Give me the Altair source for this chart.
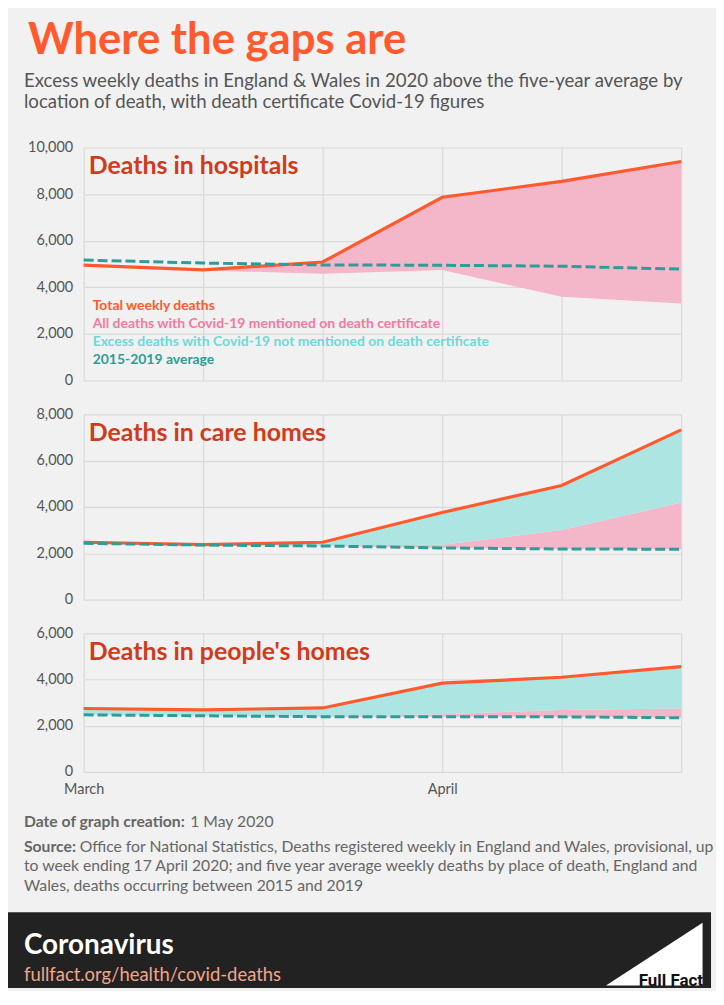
import altair as alt
import pandas as pd

FONT = "Lato"

weeks = ["13 Mar", "20 Mar", "27 Mar", "3 Apr", "10 Apr", "17 Apr"]
week_axis_labels = ["March", "", "", "April", "", ""]

hosp_total = [4950, 4745, 5085, 7865, 8545, 9400]
hosp_avg = [5170, 5040, 4960, 4945, 4905, 4780]
hosp_covid = [0, 25, 500, 3120, 4950, 6100]

care_total = [2475, 2370, 2475, 3760, 4930, 7330]
care_avg = [2430, 2355, 2315, 2230, 2185, 2175]
care_covid = [0, 0, 20, 140, 815, 2015]

home_total = [2745, 2690, 2770, 3845, 4100, 4560]
home_avg = [2470, 2430, 2390, 2385, 2385, 2345]
home_covid = [0, 0, 10, 115, 300, 400]

panel_titles = ["Deaths in hospitals", "Deaths in care homes", "Deaths in people's homes"]
legend_labels = [
    "Total weekly deaths",
    "All deaths with Covid-19 mentioned on death certificate",
    "Excess deaths with Covid-19 not mentioned on death certificate",
    "2015-2019 average",
]

ORANGE = "#ff5a2d"
PINK = "#f4b6c9"
CYAN = "#ade5e3"
TEAL = "#2d9d99"
LEG_COLORS = [ORANGE, "#f878a0", "#6fd8d8", TEAL]
GRID = "#dadada"
LABEL = "#555555"
FOOT = "#666666"

label_expr = "[" + ",".join(f"'{l}'" for l in week_axis_labels) + "][indexof([" + ",".join(
    f"'{w}'" for w in weeks) + "], datum.value)]"


def txt(s, x, y, size, color, weight="normal", align="left", font=FONT):
    return alt.Chart(alt.Data(values=[{"t": s}])).mark_text(
        align=align, baseline="alphabetic", fontSize=size, fontWeight=weight,
        color=color, font=font
    ).encode(text="t:N", x=alt.value(x), y=alt.value(y))


def panel(title, total, avg, covid, ymax, height, show_x, extra_before=(), extra_after=()):
    df = pd.DataFrame({"week": weeks, "total": total, "avg": avg, "covid": covid})
    df["pink_lo"] = [min(a, t - c) for a, t, c in zip(avg, total, covid)]
    df["pink_hi"] = df["pink_lo"] + df["covid"]
    df["cyan_hi"] = [max(t, h) for t, h in zip(df["total"], df["pink_hi"])]

    x = alt.X("week:N", sort=weeks, title=None,
              scale=alt.Scale(type="point", padding=0),
              axis=alt.Axis(grid=True, gridColor=GRID, gridWidth=1.2, ticks=False, domain=False,
                            labels=show_x, labelExpr=label_expr, labelAngle=0,
                            labelPadding=11, labelFontSize=14.5, labelColor=LABEL,
                            labelFont=FONT))
    yscale = alt.Scale(domain=[0, ymax], nice=False)
    yaxis = alt.Axis(values=list(range(0, ymax + 1, 2000)), format=",.0f", grid=True,
                     gridColor=GRID, gridWidth=1.2, ticks=False, domain=False,
                     labelPadding=11, labelFontSize=14.5, labelColor=LABEL, labelFont=FONT)

    base = alt.Chart(df)
    pink = base.mark_area(color=PINK, opacity=1).encode(
        x=x, y=alt.Y("pink_lo:Q", scale=yscale, axis=yaxis, title=None), y2="pink_hi:Q")
    cyan = base.mark_area(color=CYAN, opacity=1).encode(
        x=x, y=alt.Y("pink_hi:Q", scale=yscale, axis=yaxis, title=None), y2="cyan_hi:Q")
    tot = base.mark_line(color=ORANGE, strokeWidth=3.2).encode(
        x=x, y=alt.Y("total:Q", scale=yscale, axis=yaxis, title=None))
    av = base.mark_line(color=TEAL, strokeWidth=3, strokeDash=[10, 4]).encode(
        x=x, y=alt.Y("avg:Q", scale=yscale, axis=yaxis, title=None))
    ttl = txt(title, 5, 27, 25, "#d03b1b", weight="bold")
    return alt.layer(*extra_before, pink, cyan, tot, av, ttl, *extra_after).properties(
        width=600, height=height)


# top decorations (panel 1 coordinates, panel top-left at page 84,146)
anchor_top = alt.Chart(alt.Data(values=[{}])).mark_rect(opacity=0).encode(
    x=alt.value(-76), x2=alt.value(630), y=alt.value(-138), y2=alt.value(-30))
top_extra = [
    anchor_top,
    txt("Where the gaps are", -56, -94, 43.8, ORANGE, weight="bold"),
    txt("Excess weekly deaths in England & Wales in 2020 above the five-year average by",
        -60, -61, 18.7, LABEL),
    txt("location of death, with death certificate Covid-19 figures", -60, -40, 18.7, LABEL),
]
legend_layers = [txt(l, 9, 163 + 18 * i, 14, c, weight="bold")
                 for i, (l, c) in enumerate(zip(legend_labels, LEG_COLORS))]

# footer decorations (panel 3 coordinates, panel top-left at page 84,634)
band = alt.Chart(alt.Data(values=[{}])).mark_rect(color="#222222").encode(
    x=alt.value(-76), x2=alt.value(630), y=alt.value(280), y2=alt.value(356))
logo = alt.Chart(alt.Data(values=[{}])).mark_point(
    shape="M1,-0.65L1,0.65L-1,0.65Z", filled=True, color="white", opacity=1, size=9409
).encode(x=alt.value(573), y=alt.value(322))
foot_extra = [
    txt("Date of graph creation:", -60, 194, 15.8, FOOT, weight="bold"),
    txt("1 May 2020", 107, 194, 15.8, FOOT),
    txt("Source:", -60, 219, 15.8, FOOT, weight="bold"),
    txt("Office for National Statistics, Deaths registered weekly in England and Wales, provisional, up",
        -4, 219, 15.8, FOOT),
    txt("to week ending 17 April 2020; and five year average weekly deaths by place of death, England and",
        -60, 239, 15.8, FOOT),
    txt("Wales, deaths occurring between 2015 and 2019", -60, 259, 15.8, FOOT),
    band,
    txt("Coronavirus", -60, 322, 28, "white", weight="bold"),
    txt("fullfact.org/health/covid-deaths", -60, 349, 18.5, "#f3a68b"),
    logo,
    txt("Full Fact", 622, 354, 17, "#111111", weight="bold", align="right",
        font="Roboto"),
]

p1 = panel(panel_titles[0], hosp_total, hosp_avg, hosp_covid, 10000, 234, False,
           extra_before=top_extra[:1], extra_after=top_extra[1:] + legend_layers)
p2 = panel(panel_titles[1], care_total, care_avg, care_covid, 8000, 186, False)
p3 = panel(panel_titles[2], home_total, home_avg, home_covid, 6000, 139, True,
           extra_after=foot_extra)

chart = alt.vconcat(p1, p2, p3, spacing=34, bounds="flush").resolve_scale(
    y="independent"
).properties(padding=0).configure(background="#f1f1f1").configure_view(strokeWidth=0)

chart.save("out.html", embed_options={"renderer": "svg", "actions": False})
